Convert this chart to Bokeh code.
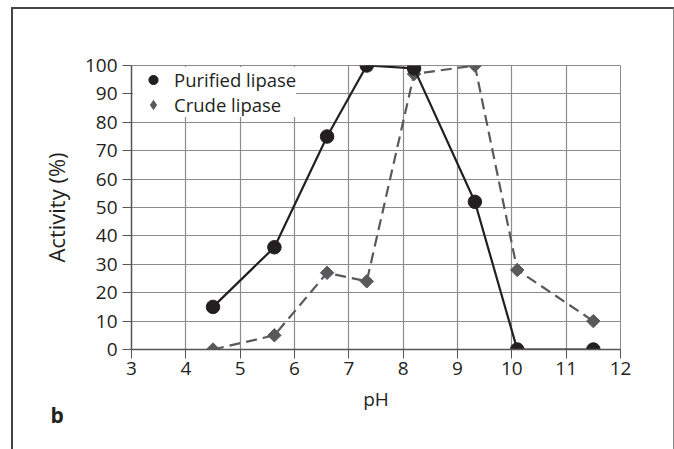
import math
from bokeh.plotting import figure
from bokeh.models import FixedTicker, Legend, LegendItem, Title
from bokeh.embed import file_html
from bokeh.resources import INLINE

ph_purified = [4.5, 5.63, 6.6, 7.33, 8.2, 9.32, 10.1, 11.5]
act_purified = [15, 36, 75, 100, 99, 52, 0, 0]
ph_crude = [4.5, 5.63, 6.6, 7.33, 8.2, 9.32, 10.1, 11.5]
act_crude = [0, 5, 27, 24, 97, 100, 28, 10]
x_ticks = [3, 4, 5, 6, 7, 8, 9, 10, 11, 12]
y_ticks = [0, 10, 20, 30, 40, 50, 60, 70, 80, 90, 100]

FONT = "Open Sans"
TXT = "#231f20"
GRAY = "#58595b"

p = figure(width=663, height=442, x_range=(3, 12), y_range=(0, 100),
           output_backend="svg", toolbar_location=None,
           min_border_left=118, min_border_right=56, min_border_top=56,
           min_border_bottom=102)
p.margin = (7, 0, 0, 11)
p.styles = {"border-left": "2px solid #444", "border-top": "2px solid #444",
            "border-right": "1px solid #888", "box-sizing": "border-box"}
p.outline_line_color = "#8c8c8c"
p.background_fill_color = "white"
p.border_fill_color = "white"

for ax, ticks in ((p.xaxis, x_ticks), (p.yaxis, y_ticks)):
    ax.ticker = FixedTicker(ticks=ticks)
    ax.minor_tick_line_color = None
    ax.major_tick_in = 0
    ax.major_tick_out = 9
    ax.major_tick_line_color = "#555555"
    ax.axis_line_color = "#555555"
    ax.axis_line_width = 1.5
    ax.major_label_text_font = FONT
    ax.major_label_text_font_size = "19px"
    ax.major_label_text_color = TXT
    ax.axis_label_text_font = FONT
    ax.axis_label_text_font_style = "normal"
    ax.axis_label_text_color = TXT

p.xaxis.axis_label = "pH"
p.yaxis.axis_label = "Activity (%)"
p.xaxis.axis_label_text_font_size = "19px"
p.yaxis.axis_label_text_font_size = "22px"
p.xaxis.major_label_standoff = 3
p.yaxis.major_label_standoff = 5
p.xaxis.axis_label_standoff = 8
p.yaxis.axis_label_standoff = 11

p.grid.grid_line_color = "#8c8c8c"
p.grid.grid_line_width = 1.2
p.xgrid.ticker = FixedTicker(ticks=x_ticks)
p.ygrid.ticker = FixedTicker(ticks=y_ticks)

p.line(ph_crude, act_crude, line_color=GRAY, line_width=2.2, line_dash="11 6")
p.scatter(ph_crude, act_crude, marker="square", size=9.5, angle=math.pi / 4,
          fill_color=GRAY, line_color=GRAY)
p.line(ph_purified, act_purified, line_color=TXT, line_width=2.2)
r_pur = p.scatter(ph_purified, act_purified, marker="circle", size=13.5,
                  fill_color=TXT, line_color=TXT)
# legend-only marker (a single NaN point, nothing drawn in the plot)
r_crude_leg = p.scatter([float("nan")], [float("nan")], marker="diamond", size=16,
                        fill_color=GRAY, line_color=GRAY)

legend = Legend(items=[LegendItem(label="Purified lipase", renderers=[r_pur]),
                       LegendItem(label="Crude lipase", renderers=[r_crude_leg])],
                location="top_left", margin=2, padding=4, spacing=0,
                glyph_width=40, glyph_height=23, label_height=23,
                label_standoff=1, border_line_color=None,
                background_fill_color="white", background_fill_alpha=1.0,
                label_text_font=FONT, label_text_font_size="18.5px",
                label_text_color=TXT)
p.add_layout(legend)

p.add_layout(Title(text="b", align="left", vertical_align="middle", offset=-81,
                   standoff=-102, text_font=FONT, text_font_size="21px",
                   text_font_style="bold", text_color=TXT), "below")

open("out.html", "w").write(file_html(p, INLINE))
